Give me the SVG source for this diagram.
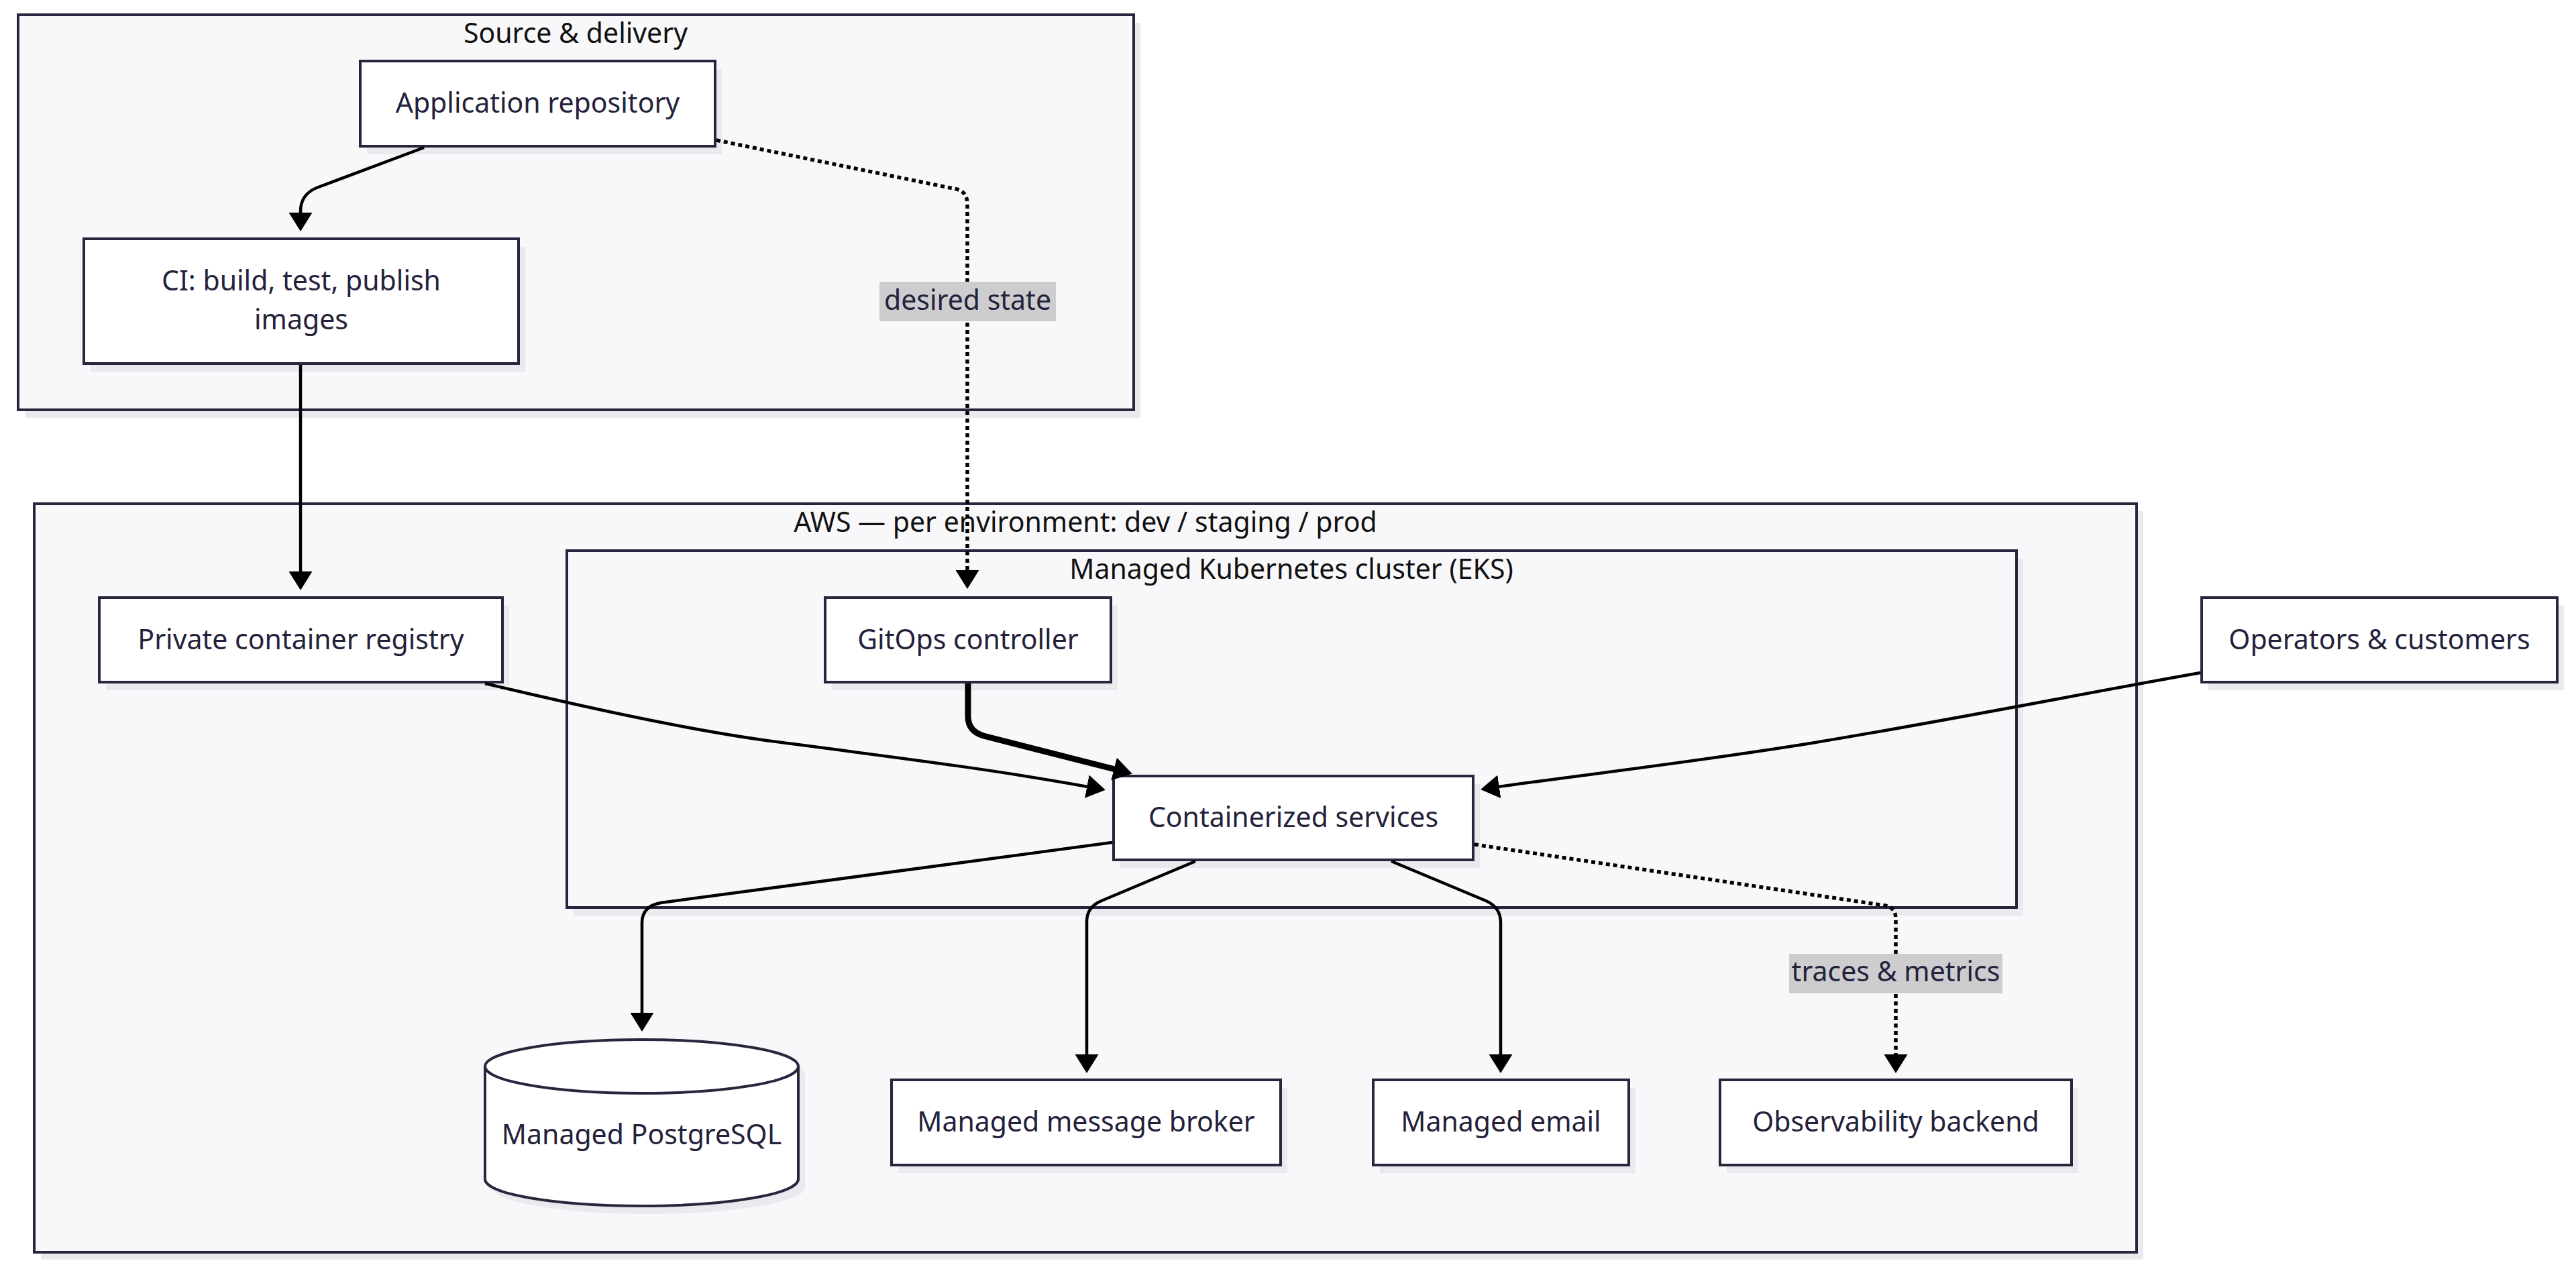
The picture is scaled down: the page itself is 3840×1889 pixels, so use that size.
<svg xmlns="http://www.w3.org/2000/svg" width="3840" height="1889" viewBox="0 0 3840 1889">
<defs>
<style>
.cluster{fill:#f8f8fa;stroke:#27263d;stroke-width:4}
.shadow{fill:#eaeaee}
.node{fill:#ffffff;stroke:#27263d;stroke-width:4}
.ntext{font-family:"Noto Sans","DejaVu Sans",sans-serif;font-size:41px;fill:#23223a;text-anchor:middle}
.ctitle{font-family:"Noto Sans","DejaVu Sans",sans-serif;font-size:41px;fill:#111111;text-anchor:middle}
.edge{fill:none;stroke:#000000;stroke-width:4.5;marker-end:url(#arrow)}
.thick{stroke-width:9}
.dotted{stroke-width:5.5;stroke-dasharray:6 5}
.lblbg{fill:#cdcdd0}
</style>
<marker id="arrow" markerUnits="userSpaceOnUse" markerWidth="28" markerHeight="35" viewBox="0 0 28 35" refX="18" refY="17.5" orient="auto">
<path d="M0,0 L28,17.5 L0,35 Z" fill="#000000"/>
</marker>
</defs>
<rect width="3840" height="1889" fill="#ffffff"/>

<g id="cluster-source">
<rect class="shadow" x="37" y="34" width="1663" height="589"/>
<rect class="cluster" x="27" y="22" width="1663" height="589"/>
<text class="ctitle" x="858" y="64">Source &amp; delivery</text>
</g>
<g id="cluster-aws">
<rect class="shadow" x="61" y="762" width="3134" height="1116"/>
<rect class="cluster" x="51" y="751" width="3134" height="1116"/>
<text class="ctitle" x="1618" y="793">AWS — per environment: dev / staging / prod</text>
</g>
<g id="cluster-eks">
<rect class="shadow" x="855" y="833" width="2161" height="532"/>
<rect class="cluster" x="845" y="821" width="2161" height="532"/>
<text class="ctitle" x="1925" y="863">Managed Kubernetes cluster (EKS)</text>
</g>

<g id="node-apprepo">
<rect class="shadow" x="547" y="103" width="529" height="127"/>
<rect class="node" x="537" y="91" width="529" height="127"/>
<text class="ntext" x="801.5" y="168">Application repository</text>
</g>
<g id="node-ci">
<rect class="shadow" x="135" y="368" width="648" height="186"/>
<rect class="node" x="125" y="356" width="648" height="186"/>
<text class="ntext" x="449" y="433">CI: build, test, publish</text>
<text class="ntext" x="449" y="491">images</text>
</g>
<g id="node-registry">
<rect class="shadow" x="158" y="903" width="601" height="126"/>
<rect class="node" x="148" y="891" width="601" height="126"/>
<text class="ntext" x="448.5" y="968">Private container registry</text>
</g>
<g id="node-gitops">
<rect class="shadow" x="1240" y="903" width="426" height="126"/>
<rect class="node" x="1230" y="891" width="426" height="126"/>
<text class="ntext" x="1443" y="968">GitOps controller</text>
</g>
<g id="node-operators">
<rect class="shadow" x="3292" y="903" width="530" height="126"/>
<rect class="node" x="3282" y="891" width="530" height="126"/>
<text class="ntext" x="3547" y="968">Operators &amp; customers</text>
</g>
<g id="node-services">
<rect class="shadow" x="1670" y="1169" width="536" height="125"/>
<rect class="node" x="1660" y="1157" width="536" height="125"/>
<text class="ntext" x="1928" y="1233">Containerized services</text>
</g>
<g id="node-postgres">
<path class="shadow" d="M733,1602 A233.5,40 0 0 1 1200,1602 L1200,1770 A233.5,40 0 0 1 733,1770 Z"/>
<path class="node" d="M723,1590 A233.5,40 0 0 1 1190,1590 L1190,1758 A233.5,40 0 0 1 723,1758 Z"/>
<path class="node" d="M723,1590 A233.5,40 0 0 0 1190,1590" fill="none"/>
<text class="ntext" x="956.5" y="1706">Managed PostgreSQL</text>
</g>
<g id="node-broker">
<rect class="shadow" x="1339" y="1622" width="580" height="127"/>
<rect class="node" x="1329" y="1610" width="580" height="127"/>
<text class="ntext" x="1619" y="1687">Managed message broker</text>
</g>
<g id="node-email">
<rect class="shadow" x="2057" y="1622" width="381" height="127"/>
<rect class="node" x="2047" y="1610" width="381" height="127"/>
<text class="ntext" x="2237.5" y="1687">Managed email</text>
</g>
<g id="node-observability">
<rect class="shadow" x="2574" y="1622" width="524" height="127"/>
<rect class="node" x="2564" y="1610" width="524" height="127"/>
<text class="ntext" x="2826" y="1687">Observability backend</text>
</g>

<g id="connectors">
<path class="edge" d="M632,220 L472,280 Q448,290 448,315 L448,335"/>
<path class="edge" d="M448,544 L448,870"/>
<path class="edge dotted" d="M1068,209 L1426,282 Q1442,286 1442,304 L1442,868"/>
<path class="edge thick" d="M1443,1019 L1443,1068 Q1443,1090 1466,1097 L1678,1151"/>
<path class="edge" d="M723,1019 C800,1037 1000,1085 1150,1105 C1350,1131 1500,1150 1638,1176"/>
<path class="edge" d="M3280,1003 C3100,1035 2900,1075 2700,1108 C2500,1140 2350,1156 2217,1175.5"/>
<path class="edge" d="M1658,1256 L985,1346 Q957,1351 957,1376 L957,1528"/>
<path class="edge" d="M1782,1284 L1642,1343 Q1620,1352 1620,1374 L1620,1590"/>
<path class="edge" d="M2074,1284 L2215,1343 Q2237,1353 2237,1375 L2237,1590"/>
<path class="edge dotted" d="M2198,1259 L2810,1350 Q2826,1353 2826,1370 L2826,1590"/>
<g id="label-desired">
<rect class="lblbg" x="1311" y="420" width="263" height="59"/>
<text class="ntext" x="1442.5" y="462">desired state</text>
</g>
<g id="label-traces">
<rect class="lblbg" x="2667" y="1422" width="318" height="59"/>
<text class="ntext" x="2826" y="1463">traces &amp; metrics</text>
</g>
</g>
</svg>
